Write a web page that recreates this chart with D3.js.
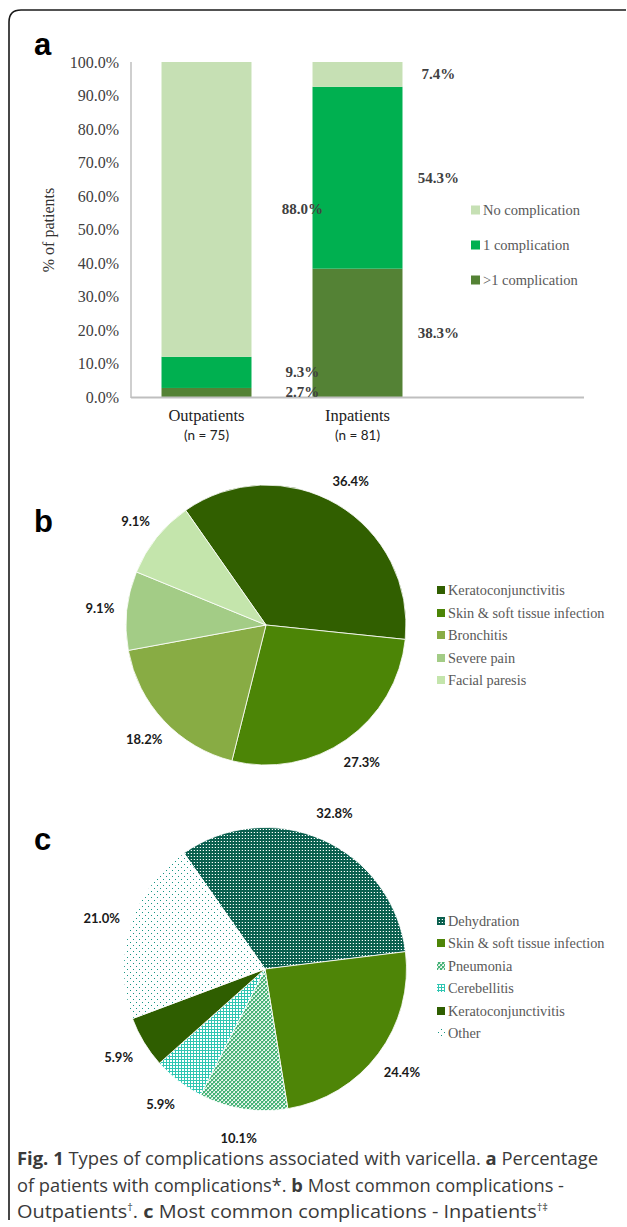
<!DOCTYPE html>
<html><head><meta charset="utf-8">
<script src="https://cdn.jsdelivr.net/npm/d3@7"></script>
<style>body{margin:0;background:#fff}svg{display:block}</style>
</head><body>
<script>
// ---------- DATA ----------
const barCategories = ["Outpatients", "Inpatients"];
const barSubLabels = ["(n = 75)", "(n = 81)"];
const barSeries = [">1 complication", "1 complication", "No complication"];
const barValues = {
  ">1 complication": [2.7, 38.3],
  "1 complication": [9.3, 54.3],
  "No complication": [88.0, 7.4]
};
const yTicks = [0,10,20,30,40,50,60,70,80,90,100];
const legendAOrder = ["No complication", "1 complication", ">1 complication"];

const pieBLabels = ["Keratoconjunctivitis", "Skin & soft tissue infection", "Bronchitis", "Severe pain", "Facial paresis"];
const pieBValues = [36.4, 27.3, 18.2, 9.1, 9.1];

const pieCLabels = ["Dehydration", "Skin & soft tissue infection", "Pneumonia", "Cerebellitis", "Keratoconjunctivitis", "Other"];
const pieCValues = [32.8, 24.4, 10.1, 5.9, 5.9, 21.0];

// ---------- STYLE ----------
const W = 627, H = 1227;
const serif = "'Liberation Serif','Times New Roman',serif";
const sans = "'Liberation Sans',Arial,sans-serif";
const calibri = "Lato,'Open Sans',sans-serif";
const barColors = {"No complication":"#c6e0b4","1 complication":"#00b050",">1 complication":"#548235"};
const pieBColors = ["#315f00","#4c8506","#88ac44","#a3cc86","#c4e5ac"];

const svg = d3.select("body").append("svg").attr("width", W).attr("height", H);

// frame
svg.append("path")
  .attr("d", "M9,1220 L9,22 Q9,10 21,10 L626,10")
  .attr("fill","none").attr("stroke","#1a1a1a").attr("stroke-width",1.6);

// panel letters
[["a",55],["b",532],["c",850]].forEach(([t,y])=>{
  svg.append("text").attr("x",34).attr("y",y).text(t)
    .attr("font-family",sans).attr("font-weight","bold").attr("font-size",31).attr("fill","#000");
});

// ---------- PANEL A ----------
const y = d3.scaleLinear().domain([0,100]).range([397,62]);
const x = d3.scaleBand().domain(barCategories).range([131,433]).paddingInner(0.404).paddingOuter(0.202);
const axisLeft = 131, axisRight = 584;

const yAxis = svg.append("g").attr("transform",`translate(${axisLeft},0)`)
  .call(d3.axisLeft(y).tickValues(yTicks).tickSize(0).tickPadding(12).tickFormat(d=>d.toFixed(1)+"%"));
yAxis.select(".domain").remove();
yAxis.selectAll("text").attr("font-family",serif).attr("font-size",16).attr("fill","#404040");

// bars
const stack = d3.stack().keys(barSeries)(barCategories.map((c,i)=>{
  const o = {cat:c}; barSeries.forEach(s=>o[s]=barValues[s][i]); return o;
}));
stack.forEach(layer=>{
  svg.append("g").selectAll("rect").data(layer).join("rect")
    .attr("x",d=>x(d.data.cat)).attr("width",x.bandwidth())
    .attr("y",d=>y(d[1])).attr("height",d=>y(d[0])-y(d[1]))
    .attr("fill",barColors[layer.key]);
});
// axes lines
svg.append("line").attr("x1",axisLeft).attr("x2",axisLeft).attr("y1",y(100)).attr("y2",y(0)+1)
  .attr("stroke","#bfbfbf").attr("stroke-width",1.5);
svg.append("line").attr("x1",axisLeft).attr("x2",axisRight).attr("y1",y(0)+0.5).attr("y2",y(0)+0.5)
  .attr("stroke","#bfbfbf").attr("stroke-width",2);

// data labels
const labelDx = {Outpatients: 51, Inpatients: 36};
barCategories.forEach((c,i)=>{
  let prevY = -Infinity;
  const items = stack.map(layer=>({v:layer[i].data[layer.key], y:(y(layer[i][0])+y(layer[i][1]))/2}));
  items.reverse().forEach(it=>{
    let yy = it.y;
    if (yy - prevY < 16) yy = prevY + 16;
    prevY = yy;
    svg.append("text").attr("x",x(c)+x.bandwidth()+labelDx[c]).attr("y",yy)
      .attr("text-anchor","middle").attr("dominant-baseline","central")
      .attr("font-family",serif).attr("font-weight","bold").attr("font-size",15).attr("fill","#404040")
      .text(it.v.toFixed(1)+"%");
  });
});

// category labels
barCategories.forEach((c,i)=>{
  const cx = x(c)+x.bandwidth()/2;
  svg.append("text").attr("x",cx).attr("y",421).attr("text-anchor","middle")
    .attr("font-family",serif).attr("font-size",16.5).attr("fill","#222").text(c);
  svg.append("text").attr("x",cx).attr("y",440).attr("text-anchor","middle")
    .attr("font-family",calibri).attr("font-size",13.5).attr("fill","#222").text(barSubLabels[i]);
});

// y title
svg.append("text").attr("transform","translate(54,230) rotate(-90)").attr("text-anchor","middle")
  .attr("font-family",serif).attr("font-size",16).attr("fill","#333").text("% of patients");

// legend a
legendAOrder.forEach((s,i)=>{
  const ly = 210 + i*35;
  svg.append("rect").attr("x",471).attr("y",ly-4.5).attr("width",9).attr("height",9).attr("fill",barColors[s]);
  svg.append("text").attr("x",483).attr("y",ly).attr("dominant-baseline","central")
    .attr("font-family",serif).attr("font-size",14.5).attr("fill","#595959").text(s);
});

// ---------- PATTERNS ----------
const defs = svg.append("defs");
function pat(id, size, bg, draw){
  const p = defs.append("pattern").attr("id",id).attr("patternUnits","userSpaceOnUse")
    .attr("width",size).attr("height",size);
  p.append("rect").attr("width",size).attr("height",size).attr("fill",bg);
  draw(p);
}
function px(p,x0,y0,w,h,c){ p.append("rect").attr("x",x0).attr("y",y0).attr("width",w).attr("height",h).attr("fill",c); }
pat("pDehyd", 3, "#0a5f4e", p=>{
  px(p,1,1,1,1,"#ffffff");
  px(p,0,1,1,1,"#3f8676");
});
pat("pPneu", 4, "#e8f5ec", p=>{
  px(p,0,0,2,2,"#45b277");
  px(p,2,2,2,2,"#45b277");
  px(p,2,0,1,1,"#8fd0aa");
  px(p,0,2,1,1,"#8fd0aa");
});
pat("pCereb", 3, "#ffffff", p=>{
  px(p,0,0,3,1,"#2fc6b2");
  px(p,0,0,1,3,"#2fc6b2");
});
pat("pOther", 6, "#ffffff", p=>{
  px(p,0,0,1,1,"#159583");
  px(p,3,3,1,1,"#159583");
});
const pieCFills = ["url(#pDehyd)","#4e8507","url(#pPneu)","url(#pCereb)","#2f5e00","url(#pOther)"];

// ---------- PIES ----------
const start = -35*Math.PI/180;
function drawPie(values, fills, cx, cy, r, labelR){
  const pie = d3.pie().sort(null).startAngle(start).endAngle(start+2*Math.PI);
  const arcs = pie(values);
  const g = svg.append("g").attr("transform",`translate(${cx},${cy})`);
  const arc = d3.arc().innerRadius(0).outerRadius(r);
  g.selectAll("path").data(arcs).join("path").attr("d",arc)
    .attr("fill",(d,i)=>fills[i]).attr("stroke","#ffffff").attr("stroke-width",0.8);
  const la = d3.arc().innerRadius(labelR).outerRadius(labelR);
  g.selectAll("text").data(arcs).join("text")
    .attr("transform",d=>`translate(${la.centroid(d)})`)
    .attr("text-anchor","middle").attr("dominant-baseline","central")
    .attr("font-family",calibri).attr("font-weight","bold").attr("font-size",13).attr("fill","#1a1a1a")
    .text(d=>d.data.toFixed(1)+"%");
}
drawPie(pieBValues, pieBColors, 266, 625, 140, 167);
drawPie(pieCValues, pieCFills, 265, 969, 141.5, 171);

function drawLegend(labels, fills, y0, step){
  labels.forEach((l,i)=>{
    const ly = Math.round(y0 + i*step);
    svg.append("rect").attr("x",437).attr("y",ly-4).attr("width",8).attr("height",8).attr("fill",fills[i]);
    svg.append("text").attr("x",448).attr("y",ly).attr("dominant-baseline","central")
      .attr("font-family",serif).attr("font-size",14.3).attr("fill","#595959").text(l);
  });
}
drawLegend(pieBLabels, pieBColors, 590, 22.5);
drawLegend(pieCLabels, pieCFills, 921, 22.4);

// ---------- CAPTION ----------
const capFont = "'Open Sans','Noto Sans',sans-serif";
function capLine(yb, parts, len){
  const t = svg.append("text").attr("x",17).attr("y",yb)
    .attr("font-family",capFont).attr("font-size",18).attr("fill","#3a3a3a")
    .attr("textLength",len).attr("lengthAdjust","spacingAndGlyphs");
  parts.forEach(([s,b])=>{
    const ts = t.append("tspan").text(s);
    if (b) ts.attr("font-weight","bold");
  });
  return t;
}
capLine(1165, [["Fig. 1",1],[" Types of complications associated with varicella. "],["a",1],[" Percentage"]], 581);
capLine(1192, [["of patients with complications*. "],["b",1],[" Most common complications -"]], 547);
(function(){
  const t = svg.append("text").attr("x",17).attr("y",1218)
    .attr("font-family",capFont).attr("font-size",18).attr("fill","#3a3a3a")
    .attr("textLength",531).attr("lengthAdjust","spacingAndGlyphs");
  t.append("tspan").text("Outpatients");
  t.append("tspan").attr("font-size",10).attr("dy",-7).text("†");
  t.append("tspan").attr("dy",7).text(". ");
  t.append("tspan").attr("font-weight","bold").text("c");
  t.append("tspan").text(" Most common complications - Inpatients");
  t.append("tspan").attr("font-size",10).attr("dy",-7).text("†‡");
})();
</script>
</body></html>
